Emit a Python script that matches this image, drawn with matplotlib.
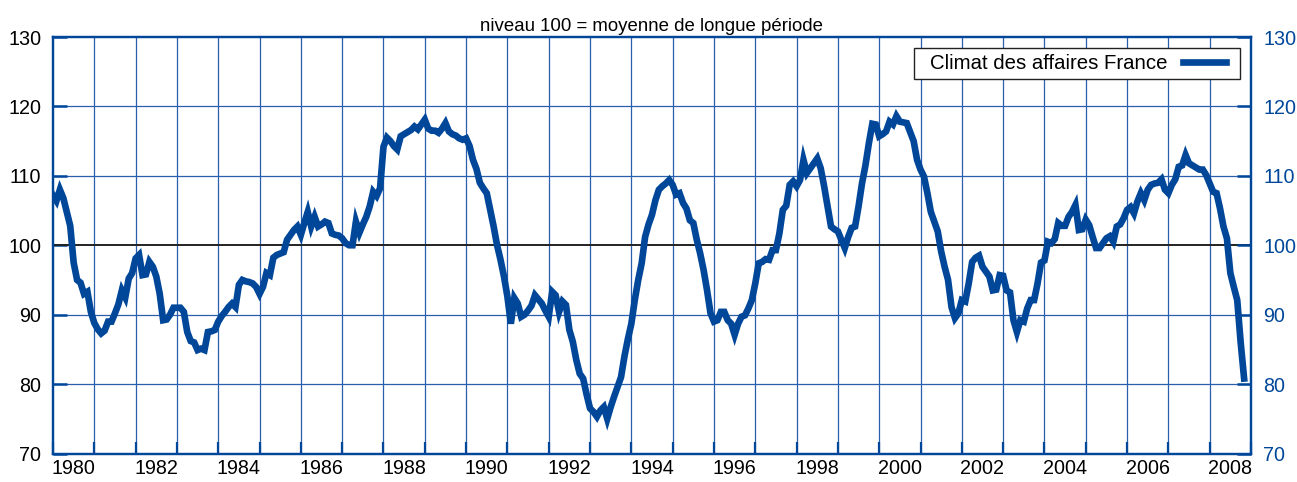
import matplotlib
matplotlib.use("Agg")
import matplotlib.pyplot as plt
from matplotlib.patches import Rectangle
import numpy as np

plt.rcParams["font.family"] = ["Liberation Sans", "DejaVu Sans"]

# Climat des affaires France, monthly, Jan 1980 - Nov 2008 (niveau 100 = moyenne)
climat_1980s = [
    107.2, 106.4, 108.0, 106.8, 104.8, 102.8, 97.5, 95.0, 94.6, 93.0, 93.3, 90.4,
    88.8, 87.9, 87.3, 87.7, 89.0, 89.0, 90.2, 91.5, 93.5, 92.5, 95.2, 96.0,
    98.1, 98.6, 95.7, 95.8, 97.6, 96.9, 95.5, 93.0, 89.2, 89.3, 90.0, 91.0,
    91.0, 91.0, 90.4, 87.5, 86.2, 86.0, 84.9, 85.1, 84.9, 87.5, 87.6, 87.8,
    89.0, 89.8, 90.4, 91.1, 91.6, 91.1, 94.3, 95.0, 94.8, 94.7, 94.5, 94.0,
    93.0, 94.0, 96.0, 95.7, 98.2, 98.6, 98.8, 99.0, 100.8, 101.5, 102.2, 102.7,
    101.5, 103.2, 104.8, 102.7, 104.1, 102.7, 103.0, 103.4, 103.2, 101.7, 101.5, 101.4,
    101.0, 100.3, 100.0, 100.0, 103.4, 101.8, 103.0, 104.1, 105.6, 107.7, 107.1, 108.2,
    114.2, 115.5, 115.0, 114.3, 113.8, 115.7, 116.0, 116.3, 116.6, 117.1, 116.7, 117.4,
    118.1, 116.8, 116.5, 116.5, 116.2, 116.8, 117.6, 116.4, 116.0, 115.8, 115.4, 115.2,
]
climat_1990s = [
    115.4, 114.3, 112.3, 111.0, 109.0, 108.2, 107.5, 105.1, 102.7, 100.0, 97.9, 95.5,
    92.6, 88.7, 92.4, 91.6, 89.7, 90.0, 90.6, 91.3, 92.8, 92.2, 91.6, 90.6,
    89.7, 93.3, 92.8, 90.4, 91.9, 91.4, 87.8, 86.1, 83.5, 81.5, 80.8, 78.5,
    76.5, 76.0, 75.3, 76.2, 76.7, 75.0, 76.7, 78.2, 79.6, 81.0, 84.0, 86.5,
    88.7, 92.1, 95.0, 97.4, 101.2, 103.0, 104.4, 106.5, 108.0, 108.5, 108.9, 109.4,
    108.7, 107.3, 107.5, 106.1, 105.3, 103.6, 103.2, 100.8, 98.8, 96.4, 93.5, 90.2,
    89.0, 89.2, 90.4, 90.4, 89.2, 88.7, 87.1, 88.7, 89.7, 89.9, 90.9, 92.1,
    94.5, 97.4, 97.6, 98.0, 97.9, 99.3, 99.3, 101.7, 105.1, 105.7, 108.7, 109.2,
    108.5, 109.4, 112.3, 110.4, 111.1, 111.8, 112.5, 111.1, 108.5, 105.6, 102.7, 102.3,
    102.0, 100.8, 99.6, 101.2, 102.5, 102.7, 105.6, 108.9, 111.5, 114.7, 117.5, 117.4,
]
climat_2000s = [
    115.7, 116.0, 116.4, 117.8, 117.4, 118.6, 117.8, 117.7, 117.6, 116.3, 115.0, 112.3,
    110.9, 109.9, 107.5, 104.8, 103.4, 102.0, 99.1, 96.9, 95.0, 91.1, 89.5, 90.2,
    92.1, 91.9, 94.5, 97.6, 98.2, 98.5, 96.9, 96.2, 95.5, 93.5, 93.6, 95.7,
    95.6, 93.5, 93.2, 89.2, 87.5, 89.2, 89.0, 90.9, 92.1, 92.1, 94.5, 97.5,
    97.8, 100.5, 100.3, 100.9, 103.2, 102.8, 102.8, 104.1, 104.8, 105.8, 102.2, 102.3,
    103.7, 102.9, 101.2, 99.6, 99.6, 100.3, 101.0, 101.3, 100.5, 102.7, 103.0, 103.9,
    105.1, 105.5, 104.6, 106.3, 107.5, 106.5, 108.0, 108.7, 108.9, 109.0, 109.5, 108.0,
    107.5, 108.7, 109.5, 111.3, 111.5, 113.0, 111.8, 111.5, 111.2, 110.9, 110.9, 110.1,
    108.9, 107.7, 107.5, 105.3, 102.7, 101.0, 96.0, 94.0, 92.1, 86.0, 80.8,
]
start_year = 1980
y_ticks = [70, 80, 90, 100, 110, 120, 130]
year_labels = [str(y) for y in range(1980, 2009, 2)]

BLUE = "#00479a"
GRID = "#2b5fae"


def plot_climat():
    values = np.array(climat_1980s + climat_1990s + climat_2000s)
    dates = start_year + np.arange(len(values)) / 12.0

    fig = plt.figure(figsize=(12.97, 4.82), dpi=100)
    ax = fig.add_axes([53 / 1297, 28.5 / 482, 1198 / 1297, 416.5 / 482])

    ax.set_xlim(1980, 2009)
    ax.set_ylim(70, 130)

    # grid: every year / every 10 points, 100 in black
    for yr in range(1981, 2009):
        ax.axvline(yr, color=GRID, lw=0.9, zorder=1)
    for v in y_ticks[1:-1]:
        if v == 100:
            ax.axhline(v, color="#222222", lw=1.4, zorder=2)
        else:
            ax.axhline(v, color=GRID, lw=0.9, zorder=1)

    ax.plot(dates, values, color=BLUE, lw=4.8, solid_joinstyle="miter",
            label="Climat des affaires France", zorder=3)

    for s in ax.spines.values():
        s.set_color(BLUE)
        s.set_linewidth(1.6)

    ax.set_xticks(range(1980, 2010))
    ax.set_xticklabels([])
    ax.set_xticks(np.arange(1980.5, 2009, 2), minor=True)
    ax.set_xticklabels(year_labels, minor=True, fontsize=14.2)
    ax.tick_params(axis="x", which="major", direction="in", length=9, width=1.6, color=BLUE)
    ax.tick_params(axis="x", which="minor", length=0, pad=4)

    ax.set_yticks(y_ticks)
    ax.tick_params(axis="y", direction="in", length=10, width=1.8, color=BLUE,
                   labelsize=14.2, pad=8.5)

    ax2 = ax.twinx()
    ax2.set_ylim(70, 130)
    ax2.set_yticks(y_ticks)
    ax2.tick_params(axis="y", direction="in", length=10, width=1.8, color=BLUE,
                    labelsize=14.2, labelcolor=BLUE, pad=9)
    for s in ax2.spines.values():
        s.set_color(BLUE)
        s.set_linewidth(1.6)

    ax.set_title("niveau 100 = moyenne de longue période", fontsize=13.4, pad=4)

    # legend box drawn by hand (wider padding on the left than on the right)
    ax2.add_patch(Rectangle((0.7187, 0.8992), 0.2721, 0.0744, transform=ax.transAxes,
                            facecolor="white", edgecolor="#222222", lw=1.0, zorder=4))
    leg = ax2.legend(*ax.get_legend_handles_labels(), loc="center right",
                     bbox_to_anchor=(0.979, 0.9364), borderaxespad=0, borderpad=0,
                     fontsize=14.7, markerfirst=False, frameon=False,
                     handlelength=2.1, handletextpad=0.75)
    leg.set_zorder(5)

    fig.savefig("out.png", dpi=100)


if __name__ == "__main__":
    plot_climat()
